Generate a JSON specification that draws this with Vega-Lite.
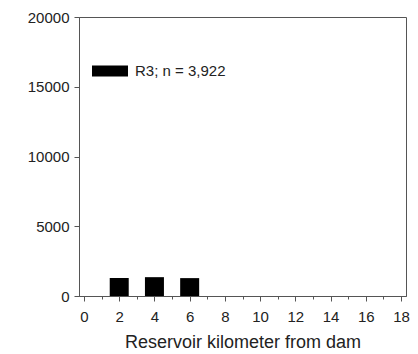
{
  "$schema": "https://vega.github.io/schema/vega-lite/v6.json",
  "width": 327,
  "height": 279,
  "autosize": {"type": "none"},
  "padding": {"left": 79, "top": 17, "right": 12, "bottom": 58},
  "background": "white",
  "config": {
    "view": {"stroke": "#555", "strokeWidth": 1},
    "font": "Liberation Sans",
    "axis": {
      "domainColor": "#555",
      "tickColor": "#555",
      "labelColor": "#222",
      "titleColor": "#222",
      "labelFont": "Liberation Sans",
      "titleFont": "Liberation Sans",
      "labelFontSize": 15,
      "titleFontSize": 18,
      "titleFontWeight": "normal",
      "grid": false
    }
  },
  "data": {
    "values": [
      {"km": 2, "count": 1290, "series": "R3; n = 3,922"},
      {"km": 4, "count": 1350, "series": "R3; n = 3,922"},
      {"km": 6, "count": 1282, "series": "R3; n = 3,922"}
    ]
  },
  "mark": {"type": "bar", "size": 19},
  "encoding": {
    "x": {
      "field": "km",
      "type": "quantitative",
      "scale": {"domain": [0, 18], "nice": false, "zero": false},
      "axis": {
        "title": "Reservoir kilometer from dam",
        "values": [0,1,2,3,4,5,6,7,8,9,10,11,12,13,14,15,16,17,18],
        "labelExpr": "datum.value % 2 === 0 ? datum.label : ''",
        "tickSize": {"condition": {"test": "datum.value % 2 === 1", "value": 3}, "value": 5},
        "labelPadding": 8,
        "titlePadding": 9,
        "labelFlush": false
      }
    },
    "y": {
      "field": "count",
      "type": "quantitative",
      "scale": {"domain": [0, 20000], "nice": false},
      "axis": {
        "title": null,
        "values": [0, 5000, 10000, 15000, 20000],
        "format": "d",
        "tickSize": 5,
        "labelPadding": 5,
        "labelFlush": false
      }
    },
    "color": {
      "field": "series",
      "type": "nominal",
      "scale": {"range": ["black"]},
      "legend": {
        "title": null,
        "orient": "none",
        "legendX": 13,
        "legendY": 36,
        "symbolType": "M-1,-0.3h2v0.6h-2Z",
        "symbolSize": 1296,
        "symbolStrokeWidth": 0,
        "symbolOpacity": 1,
        "labelFontSize": 15,
        "labelFont": "Liberation Sans",
        "labelColor": "#222",
        "labelOffset": 7,
        "padding": 0
      }
    }
  }
}
